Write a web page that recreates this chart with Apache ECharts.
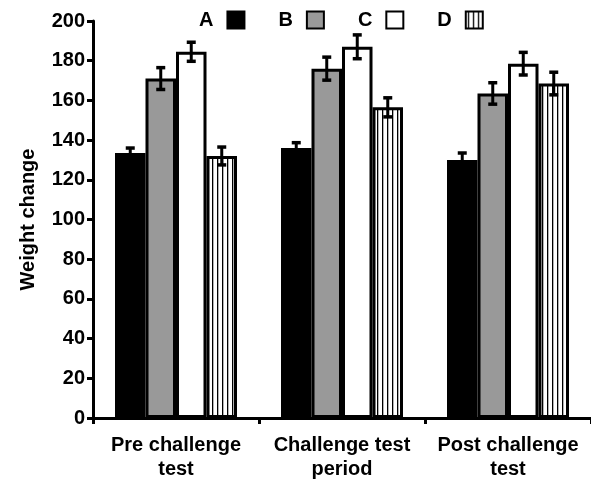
<!DOCTYPE html>
<html>
<head>
<meta charset="utf-8">
<script src="https://cdn.jsdelivr.net/npm/echarts@6/dist/echarts.min.js"></script>
<style>
html,body{margin:0;padding:0;background:#fff;}
#chart{width:591px;height:483px;}
</style>
</head>
<body>
<div id="chart"></div>
<script>
const categories = ['Pre challenge\ntest', 'Challenge test\nperiod', 'Post challenge\ntest'];
const seriesNames = ['A', 'B', 'C', 'D'];
const valuesA = [133.5, 136, 130];
const valuesB = [171, 176, 163.5];
const valuesC = [184.5, 187, 178.5];
const valuesD = [132, 156.5, 168.5];
const errA = [2.5, 2.7, 3.5];
const errB = [5.5, 5.8, 5.4];
const errC = [4.8, 6, 5.7];
const errD = [4.5, 4.8, 5.7];
const yAxisName = 'Weight change';

const FONT = "'Liberation Sans', Arial, sans-serif";
const BW = 30.5;

// vertical stripe pattern
const pc = document.createElement('canvas');
pc.width = 5; pc.height = 4;
const pctx = pc.getContext('2d');
pctx.fillStyle = '#fff';
pctx.fillRect(0, 0, 5, 4);
pctx.fillStyle = '#000';
pctx.fillRect(2, 0, 1.3, 4);

const fills = ['#000000', '#999999', '#ffffff', {image: pc, repeat: 'repeat'}];
const values = [valuesA, valuesB, valuesC, valuesD];
const errs = [errA, errB, errC, errD];

const chart = echarts.init(document.getElementById('chart'), null, {renderer: 'canvas'});

const series = [];
seriesNames.forEach((n, k) => {
  series.push({
    name: n,
    type: 'bar',
    data: values[k],
    barWidth: BW,
    barGap: '0%',
    itemStyle: {color: fills[k], borderColor: '#000', borderWidth: 3},
    emphasis: {disabled: true},
    z: 2
  });
});
seriesNames.forEach((n, k) => {
  series.push({
    name: n + '_err',
    type: 'custom',
    data: values[k].map((v, i) => [i, v, errs[k][i]]),
    z: 5,
    renderItem: function (params, api) {
      const ci = api.value(0), v = api.value(1), e = api.value(2);
      const hi = api.coord([ci, v + e]);
      const lo = api.coord([ci, v - e]);
      const x = hi[0] + (k - 1.5) * BW;
      const cap = 4.5;
      const st = {stroke: '#000', lineWidth: 3};
      const cst = {stroke: '#000', lineWidth: 3.5};
      return {
        type: 'group',
        children: [
          {type: 'line', shape: {x1: x, y1: hi[1], x2: x, y2: lo[1]}, style: st},
          {type: 'line', shape: {x1: x - cap, y1: hi[1], x2: x + cap, y2: hi[1]}, style: cst},
          {type: 'line', shape: {x1: x - cap, y1: lo[1], x2: x + cap, y2: lo[1]}, style: cst}
        ]
      };
    }
  });
});

chart.setOption({
  animation: false,
  backgroundColor: '#fff',
  legend: {
    data: seriesNames,
    left: 194,
    top: 5,
    align: 'right',
    itemWidth: 17,
    itemHeight: 17,
    itemGap: 33,
    icon: 'rect',
    selectedMode: false,
    textStyle: {fontFamily: FONT, fontWeight: 'bold', fontSize: 20, color: '#000', padding: [0, 9, 0, 0]}
  },
  grid: {left: 93, right: -6, top: 21, bottom: 65, containLabel: false},
  xAxis: {
    type: 'category',
    data: categories,
    axisLine: {lineStyle: {color: '#000', width: 3}},
    axisTick: {show: true, length: 6, lineStyle: {color: '#000', width: 3}},
    axisLabel: {fontFamily: FONT, fontWeight: 'bold', fontSize: 20, color: '#000', margin: 15, lineHeight: 24, interval: 0}
  },
  yAxis: {
    type: 'value',
    min: 0, max: 200, interval: 20,
    name: yAxisName,
    nameLocation: 'middle',
    nameGap: 55,
    nameTextStyle: {fontFamily: FONT, fontWeight: 'bold', fontSize: 20, color: '#000'},
    axisLine: {show: true, lineStyle: {color: '#000', width: 3}},
    axisTick: {show: true, length: 6, lineStyle: {color: '#000', width: 3}},
    splitLine: {show: false},
    axisLabel: {fontFamily: FONT, fontWeight: 'bold', fontSize: 20, color: '#000', margin: 8}
  },
  series: series
});
</script>
</body>
</html>
